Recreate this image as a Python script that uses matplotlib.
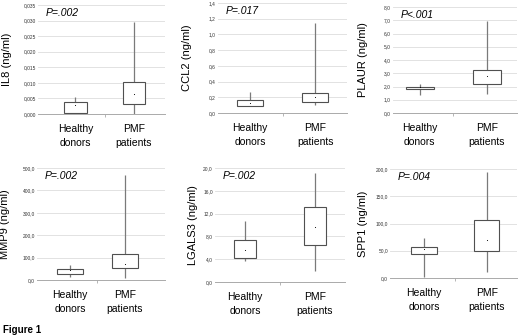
import matplotlib
matplotlib.use("Agg")
import matplotlib.pyplot as plt
import numpy as np

plt.rcParams['font.family'] = ['Liberation Sans', 'DejaVu Sans']

categories = ["Healthy\ndonors", "PMF\npatients"]
markers = ["IL8", "CCL2", "PLAUR", "MMP9", "LGALS3", "SPP1"]
p_values = ["P=.002", "P=.017", "P<.001", "P=.002", "P=.002", "P=.004"]

# per marker: [healthy, PMF]
whisker_low = [[0.0, 0.0], [0.085, 0.10], [1.33, 1.43], [15, 9], [3.7, 1.9], [2, 11]]
box_low = [[0.0003, 0.0032], [0.09, 0.14], [1.80, 2.20], [28, 52], [4.2, 6.5], [44, 50]]
box_high = [[0.0037, 0.0104], [0.17, 0.25], [1.98, 3.23], [49, 115], [7.3, 13.1], [57, 106]]
whisker_high = [[0.0053, 0.0295], [0.27, 1.15], [2.2, 6.93], [67, 470], [10.7, 19.1], [73, 194]]
center_dot = [[0.0029, 0.0064], [0.13, 0.20], [1.93, 2.80], [45, 73], [5.6, 9.7], [53, 69]]

y_max = [0.035, 1.4, 8.0, 500, 20, 200]
y_step = [0.005, 0.2, 1.0, 100, 4, 50]
y_decimals = [3, 1, 1, 1, 1, 1]

W, H = 520, 335
fig = plt.figure(figsize=(W / 100, H / 100), dpi=100)

# axes boxes in pixels: left, right, top, bottom
boxes_px = [(38, 165, 5, 114), (218, 347, 3, 113), (393, 517, 7, 113),
            (37, 165, 168, 280), (215, 345, 168, 282), (390, 517, 169, 278)]
xlims = [(-0.64, 1.53), (-0.49, 1.49), (-0.40, 1.45),
         (-0.60, 1.73), (-0.43, 1.43), (-0.54, 1.48)]
box_w = [0.38, 0.40, 0.42, 0.47, 0.32, 0.40]
ylabel_x = [7, 187, 363, 5, 193, 363]

for i in range(6):
    l, r, t, b = boxes_px[i]
    ax = fig.add_axes([l / W, 1 - b / H, (r - l) / W, (b - t) / H])
    x = np.arange(len(categories))
    ax.vlines(x, whisker_low[i], whisker_high[i],
              color='#7a7a7a', lw=0.9, zorder=2)
    heights = np.array(box_high[i]) - np.array(box_low[i])
    ax.bar(x, heights, bottom=box_low[i], width=box_w[i], facecolor='white',
           edgecolor='#505050', lw=0.8, zorder=3)
    ax.scatter(x, center_dot[i], s=0.6, color='black', lw=0, zorder=4)
    ax.set_xlim(*xlims[i])
    ax.set_ylim(0, y_max[i])
    ticks = np.arange(0, y_max[i] + y_step[i] / 2, y_step[i])
    ax.set_yticks(ticks)
    ax.set_yticklabels([f"{v:.{y_decimals[i]}f}".replace('.', ',') for v in ticks],
                       fontsize=3.5, color='#333333')
    ax.tick_params(axis='y', length=0, pad=1.5)
    ax.set_xticks(x)
    ax.set_xticklabels(categories, fontsize=7.5, linespacing=1.5)
    ax.tick_params(axis='x', length=0, pad=7)
    ax.set_xticks([0.5], minor=True)
    ax.tick_params(axis='x', which='minor', length=2, color='#aaaaaa', width=0.6)
    ax.grid(axis='y', color='#dddddd', lw=0.6, zorder=0)
    ax.set_axisbelow(True)
    for s in ['left', 'right', 'top']:
        ax.spines[s].set_visible(False)
    ax.spines['bottom'].set_color('#aaaaaa')
    ax.spines['bottom'].set_linewidth(0.7)
    ax.text(0.06, 0.97, p_values[i], transform=ax.transAxes, fontsize=7.5,
            style='italic', va='top', ha='left')
    fig.text(ylabel_x[i] / W, 1 - ((t + b) / 2) / H, f"{markers[i]} (ng/ml)",
             rotation=90, fontsize=8, ha='center', va='center')

fig.text(3 / W, 1 - 330 / H, "Figure 1", fontsize=7, fontweight='bold',
         ha='left', va='center')

fig.savefig("out.png", dpi=100)
